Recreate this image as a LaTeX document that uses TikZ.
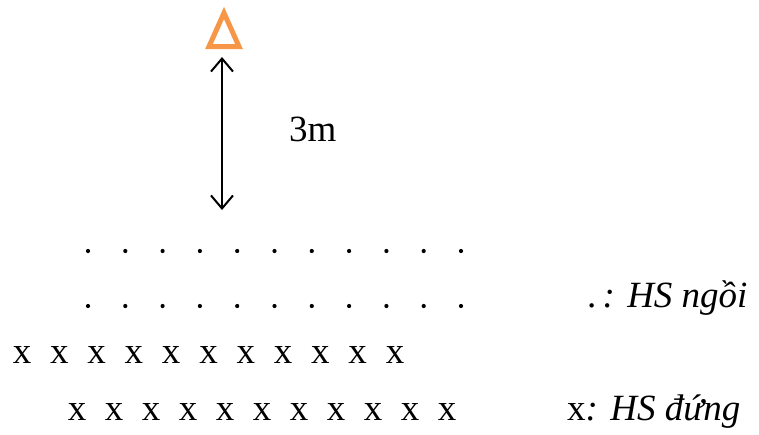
\documentclass[tikz,border=0pt]{standalone}
\usepackage{fontspec}
\setmainfont{Liberation Serif}
\usetikzlibrary{arrows.meta}
\definecolor{triorange}{HTML}{F79646}
\tikzset{
  lbl/.style={inner sep=0pt, anchor=base west, font=\fontsize{37}{42}\selectfont},
  xmark/.style={inner sep=0pt, anchor=base, font=\fontsize{37}{42}\selectfont},
  seat/.style={fill=black},
  tri/.style={draw=triorange, line width=5pt, line join=miter},
  dist/.style={line width=2pt, {Straight Barb[length=13pt,width=22pt,line width=2pt]}-{Straight Barb[length=13pt,width=22pt,line width=2pt]}}
}
\begin{document}
\begin{tikzpicture}[x=1pt,y=-1pt]
\useasboundingbox (0,0) rectangle (759,434);
% teacher triangle
\draw[tri] (209,46.5) -- (224,13) -- (239,46.5) -- cycle;
% distance arrow
\coordinate (top) at (222,57);
\coordinate (bot) at (222,210);
\draw[dist] (top) -- (bot);
\node[lbl] (dist) at (289,141) {3m};
% sitting students
\foreach \i in {0,...,10} {
  \fill[seat] ({88+37.3*\i},251) circle (2.1pt) coordinate (s1-\i);
  \fill[seat] ({88+37.3*\i},306) circle (2.1pt) coordinate (s2-\i);
}
% standing students
\foreach \i in {0,...,10} {
  \node[xmark] (x1-\i) at ({22+37.3*\i},363) {x};
  \node[xmark] (x2-\i) at ({77+37*\i},420) {x};
}
% legend
\node[lbl] (leg1) at (587,307) {.\,\textit{: HS ngồi}};
\node[lbl] (leg2) at (567,420) {x\textit{: HS đứng}};
\end{tikzpicture}
\end{document}
